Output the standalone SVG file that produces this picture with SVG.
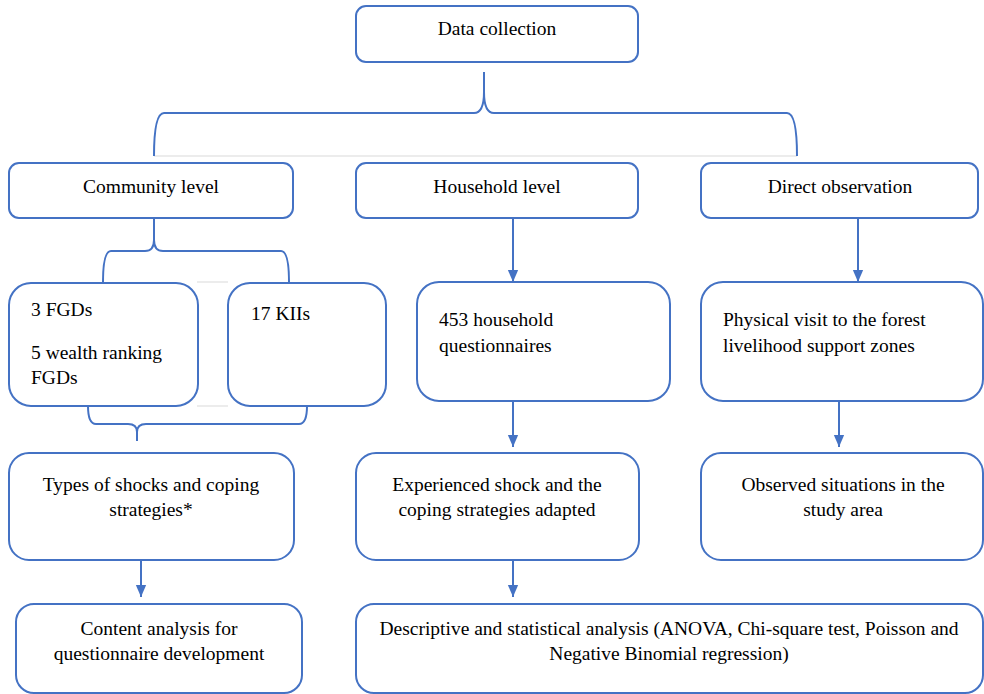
<svg xmlns="http://www.w3.org/2000/svg" width="984" height="694" viewBox="0 0 984 694">
<style>
.box{fill:#fff;stroke:#4472C4;stroke-width:2}
.ln{fill:none;stroke:#4472C4;stroke-width:2}
.gr{fill:none;stroke:#d9d9d9;stroke-width:1}
.c{text-anchor:middle}
</style>
<defs>
<marker id="ah" markerWidth="12" markerHeight="14" refX="14" refY="6" orient="auto" markerUnits="userSpaceOnUse" viewBox="0 0 14 12">
<path d="M0,0 L14,6 L0,12 Z" fill="#4472C4"/>
</marker>
</defs>
<g id="connectors">
<line class="gr" x1="154" y1="156" x2="797" y2="156"/>
<path class="ln" d="M154,156 Q154,113 164,113 L474,113 Q484,113 484,92 L484,72 M484,92 Q484,113 494,113 L787,113 Q797,113 797,156"/>
<line class="gr" x1="197" y1="282" x2="228" y2="282"/>
<path class="ln" d="M103,282 Q103,251 111,251 L145,251 Q154,251 154,240 L154,219 M154,240 Q154,251 163,251 L281,251 Q289,251 289,282"/>
<line class="gr" x1="197" y1="406" x2="228" y2="406"/>
<path class="ln" d="M88,406 Q88,424 96,424 L128,424 Q137,424 137,432 L137,441 M137,432 Q137,424 146,424 L299,424 Q307,424 307,406"/>
<line class="ln" x1="141" y1="561" x2="141" y2="597" marker-end="url(#ah)"/>
<line class="ln" x1="513" y1="219" x2="513" y2="282" marker-end="url(#ah)"/>
<line class="ln" x1="513" y1="402" x2="513" y2="447" marker-end="url(#ah)"/>
<line class="ln" x1="513" y1="561" x2="513" y2="597" marker-end="url(#ah)"/>
<line class="ln" x1="858" y1="219" x2="858" y2="282" marker-end="url(#ah)"/>
<line class="ln" x1="839" y1="402" x2="839" y2="447" marker-end="url(#ah)"/>
</g>
<g font-family="Liberation Serif, DejaVu Serif, serif" font-size="19.5" fill="#000">
<g id="data-collection"><rect class="box" x="356" y="6" width="282" height="56" rx="10"/><text class="c" x="497" y="35">Data collection</text></g>
<g id="community-level"><rect class="box" x="9" y="163" width="284" height="55" rx="10"/><text class="c" x="151" y="193">Community level</text></g>
<g id="household-level"><rect class="box" x="356" y="163" width="282" height="55" rx="10"/><text class="c" x="497" y="193">Household level</text></g>
<g id="direct-observation"><rect class="box" x="701" y="163" width="277" height="55" rx="10"/><text class="c" x="840" y="193">Direct observation</text></g>
<g id="fgds"><rect class="box" x="9" y="283" width="189" height="123" rx="22"/><text x="31" y="316">3 FGDs</text><text x="31" y="359">5 wealth ranking</text><text x="31" y="384">FGDs</text></g>
<g id="kiis"><rect class="box" x="228" y="283" width="158" height="123" rx="22"/><text x="251" y="320">17 KIIs</text></g>
<g id="household-questionnaires"><rect class="box" x="417" y="282" width="253" height="119" rx="22"/><text x="439" y="326">453 household</text><text x="439" y="352">questionnaires</text></g>
<g id="physical-visit"><rect class="box" x="701" y="282" width="282" height="119" rx="22"/><text x="723" y="326">Physical visit to the forest</text><text x="723" y="352">livelihood support zones</text></g>
<g id="types-of-shocks"><rect class="box" x="9" y="453" width="285" height="107" rx="20"/><text class="c" x="151" y="491">Types of shocks and coping</text><text class="c" x="151" y="516">strategies*</text></g>
<g id="experienced-shock"><rect class="box" x="356" y="453" width="283" height="107" rx="20"/><text class="c" x="497" y="491">Experienced shock and the</text><text class="c" x="497" y="516">coping strategies adapted</text></g>
<g id="observed-situations"><rect class="box" x="701" y="453" width="282" height="107" rx="20"/><text class="c" x="843" y="491">Observed situations in the</text><text class="c" x="843" y="516">study area</text></g>
<g id="content-analysis"><rect class="box" x="16" y="604" width="286" height="89" rx="18"/><text class="c" x="159" y="635">Content analysis for</text><text class="c" x="159" y="660">questionnaire development</text></g>
<g id="descriptive-analysis"><rect class="box" x="356" y="604" width="627" height="89" rx="18"/><text class="c" x="669" y="635">Descriptive and statistical analysis (ANOVA, Chi-square test, Poisson and</text><text class="c" x="669" y="660">Negative Binomial regression)</text></g>
</g>
</svg>
